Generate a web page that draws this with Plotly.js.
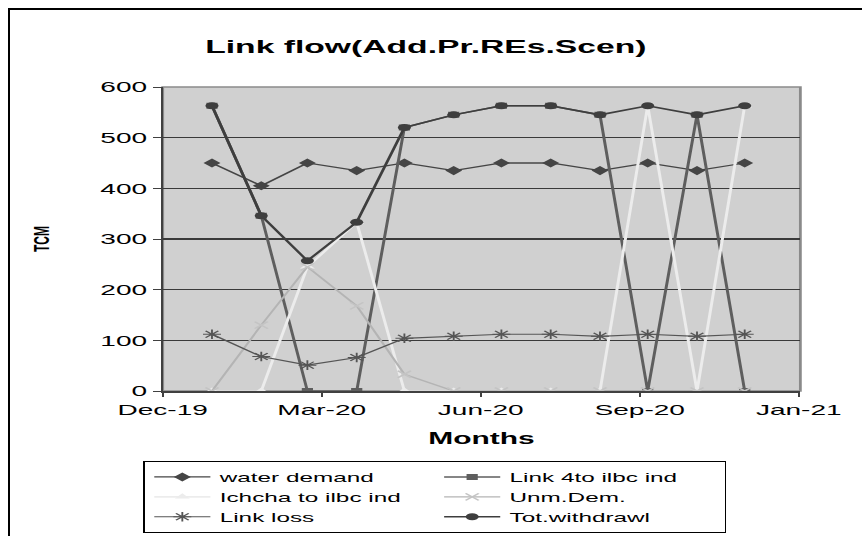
<!DOCTYPE html>
<html>
<head>
<meta charset="utf-8">
<script src="https://cdn.plot.ly/plotly-3.0.1.min.js"></script>
<style>
html,body{margin:0;padding:0;background:#fff;overflow:hidden;}
#frame{position:absolute;left:8px;top:8px;width:900px;height:600px;border-left:2px solid #000;border-top:2px solid #000;box-sizing:border-box;pointer-events:none;}
#chart{position:absolute;left:0;top:0;width:461px;height:536px;transform:scaleX(1.87);transform-origin:0 0;}
</style>
</head>
<body>
<div id="frame"></div>
<div id="chart"></div>
<script>
// Data
var months = ['2020-01-01','2020-02-01','2020-03-01','2020-04-01','2020-05-01','2020-06-01',
              '2020-07-01','2020-08-01','2020-09-01','2020-10-01','2020-11-01','2020-12-01'];
var waterDemand = [450, 405, 450, 435, 450, 435, 450, 450, 435, 450, 435, 450];
var link4toIlbc = [563, 346, 0, 0, 520, 545, 563, 563, 545, 0, 545, 0];
var ichchaToIlbc = [0, 0, 245, 333, 0, 0, 0, 0, 0, 563, 0, 563];
var unmDem = [0, 130, 245, 168, 33, 0, 0, 0, 0, 0, 0, 0];
var linkLoss = [112, 68, 51, 66, 104, 108, 112, 112, 108, 112, 108, 112];
var totWithdrawl = [563, 346, 257, 333, 520, 545, 563, 563, 545, 563, 545, 563];

var tickDates = ['2019-12-01','2020-03-10','2020-06-18','2020-09-26','2021-01-04'];
var tickLabels = ['Dec-19','Mar-20','Jun-20','Sep-20','Jan-21'];

var seriesNames = ['water demand','Link 4to ilbc ind','Ichcha to ilbc ind','Unm.Dem.','Link loss','Tot.withdrawl'];

var FONT = 'Liberation Sans, Arial, sans-serif';

var traces = [
  {x: months, y: waterDemand, name: seriesNames[0], mode: 'lines+markers',
   line: {color: '#454545', width: 1.3}, marker: {symbol: 'diamond', size: 7, color: '#454545'}},
  {x: months, y: link4toIlbc, name: seriesNames[1], mode: 'lines+markers',
   line: {color: '#5e5e5e', width: 1.6}, marker: {symbol: 'square', size: 6, color: '#5e5e5e'}},
  {x: months, y: ichchaToIlbc, name: seriesNames[2], mode: 'lines+markers',
   line: {color: '#ececec', width: 1.6}, marker: {symbol: 'triangle-up', size: 7, color: '#ececec'}},
  {x: months, y: unmDem, name: seriesNames[3], mode: 'lines+markers',
   line: {color: '#b4b4b4', width: 1.3}, marker: {symbol: 'x-thin-open', size: 7, color: '#c4c4c4', line: {width: 1.3, color: '#c4c4c4'}}},
  {x: months, y: linkLoss, name: seriesNames[4], mode: 'lines+markers',
   line: {color: '#555555', width: 1.2}, marker: {symbol: 'asterisk-open', size: 8, color: '#555555', line: {width: 1, color: '#555555'}}},
  {x: months, y: totWithdrawl, name: seriesNames[5], mode: 'lines+markers',
   line: {color: '#3e3e3e', width: 1.6}, marker: {symbol: 'circle', size: 7, color: '#3e3e3e'}}
];

var layout = {
  width: 461, height: 536,
  margin: {l: 87.2, r: 33.2, t: 87, b: 145},
  paper_bgcolor: 'rgba(0,0,0,0)',
  plot_bgcolor: '#d0d0d0',
  font: {family: FONT, color: '#000', size: 15},
  showlegend: true,
  title: {text: '<b>Link flow(Add.Pr.REs.Scen)</b>', font: {size: 18, family: FONT},
          x: 0.494, xref: 'container', xanchor: 'center', y: 1 - 47/536, yref: 'container', yanchor: 'middle'},
  xaxis: {
    type: 'date', range: ['2019-12-01', '2021-01-05'],
    tickmode: 'array', tickvals: tickDates, ticktext: tickLabels,
    showgrid: false, zeroline: false, showline: true, linecolor: '#404040', linewidth: 2,
    ticks: 'outside', ticklen: 4, tickwidth: 1, tickcolor: '#404040', tickfont: {size: 15},
    title: {text: '<b>Months</b>', font: {size: 16}, standoff: 16}
  },
  yaxis: {
    range: [0, 600], tickmode: 'linear', tick0: 0, dtick: 100,
    showgrid: true, gridcolor: '#3a3a3a', gridwidth: 1.3, zeroline: false,
    showline: true, linecolor: '#404040', linewidth: 1,
    ticks: 'outside', ticklen: 4.3, tickwidth: 1, tickcolor: '#404040', tickfont: {size: 15},
    title: {text: '<b>TCM</b>', font: {size: 12}, standoff: 24}
  },
  shapes: [
    {type: 'rect', xref: 'paper', yref: 'paper', x0: 0, x1: 1, y0: 0, y1: 1,
     line: {color: '#8a8a8a', width: 1.5}, layer: 'below'}
  ],
  legend: {
    orientation: 'h', x: 76.5/461, xref: 'container', xanchor: 'left',
    y: 1 - 461/536, yref: 'container', yanchor: 'top',
    entrywidth: 110, entrywidthmode: 'pixels',
    bgcolor: '#ffffff', bordercolor: '#000', borderwidth: 1,
    font: {size: 13, family: FONT},
    tracegroupgap: 0, itemwidth: 30
  }
};

Plotly.newPlot('chart', traces, layout, {displayModeBar: false, staticPlot: true});
</script>
</body>
</html>
